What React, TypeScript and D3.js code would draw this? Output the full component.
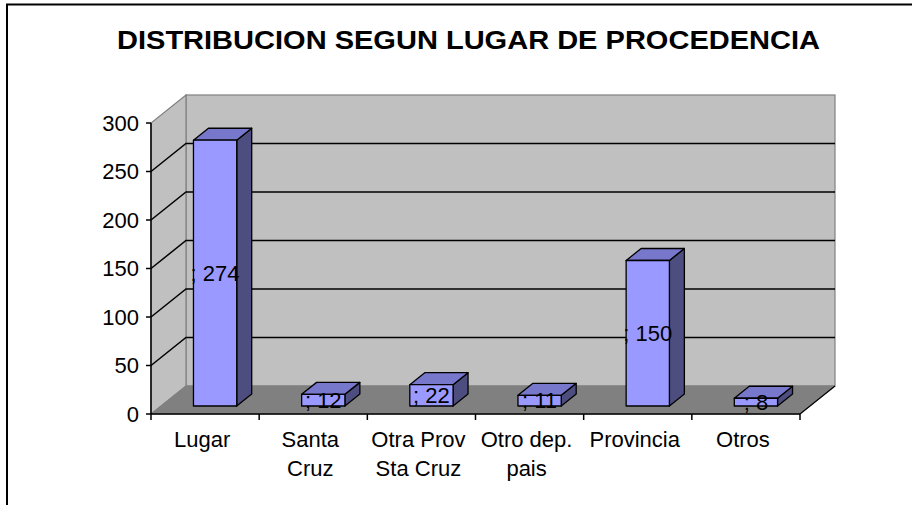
import React from "react";
import * as d3 from "d3";

const categories: string[][] = [
  ["Lugar"],
  ["Santa", "Cruz"],
  ["Otra Prov", "Sta Cruz"],
  ["Otro dep.", "pais"],
  ["Provincia"],
  ["Otros"],
];
const values: number[] = [274, 12, 22, 11, 150, 8];
const yTicks: number[] = [0, 50, 100, 150, 200, 250, 300];
const title = "DISTRIBUCION SEGUN LUGAR DE PROCEDENCIA";

const W = 912;
const H = 505;
const FONT = "'Liberation Sans', Arial, sans-serif";

export default function App() {
  const DX = 35;
  const DY = -28;
  const x = d3
    .scaleBand<number>()
    .domain(categories.map((_, i) => i))
    .range([151, 800])
    .paddingInner(0)
    .paddingOuter(0);
  const y = d3.scaleLinear().domain([0, 300]).range([414, 123]);
  const x0 = x.range()[0];
  const x1 = x.range()[1];
  const y0 = y(0);
  const yTop = y(300);

  const f0 = 0.286;
  const f1 = 0.714;
  const bw = x.bandwidth() / 2.5;
  const FS = 22;

  const pts = (arr: number[][]) => arr.map((p) => p.join(",")).join(" ");

  return (
    <svg
      width={W}
      height={H}
      style={{ position: "absolute", left: 0, top: 0, background: "#fff" }}
      fontFamily={FONT}
    >
      <rect x={0} y={0} width={W} height={H} fill="#fff" />
      {/* frame */}
      <rect x={7} y={4.5} width={W + 20} height={H + 20} fill="none" stroke="#000" strokeWidth={2} />
      {/* title */}
      <text
        x={468.5}
        y={49}
        textAnchor="middle"
        fontSize={26}
        fontWeight="bold"
        textLength={703}
        lengthAdjust="spacingAndGlyphs"
        fill="#000"
      >
        {title}
      </text>

      {/* back wall */}
      <rect
        x={x0 + DX}
        y={yTop + DY}
        width={x1 - x0}
        height={y0 - yTop}
        fill="#C0C0C0"
        stroke="#808080"
        strokeWidth={1.2}
      />
      {/* side wall */}
      <polygon
        points={pts([
          [x0, y0],
          [x0, yTop],
          [x0 + DX, yTop + DY],
          [x0 + DX, y0 + DY],
        ])}
        fill="#C0C0C0"
        stroke="#808080"
        strokeWidth={1.2}
      />
      {/* floor */}
      <polygon
        points={pts([
          [x0, y0],
          [x1, y0],
          [x1 + DX, y0 + DY],
          [x0 + DX, y0 + DY],
        ])}
        fill="#808080"
        stroke="#808080"
        strokeWidth={1}
      />
      <line x1={x1} y1={y0} x2={x1 + DX} y2={y0 + DY} stroke="#000" strokeWidth={1.2} />

      {/* gridlines */}
      {yTicks
        .filter((t) => t > 0 && t < 300)
        .map((t) => (
          <polyline
            key={"g" + t}
            points={pts([
              [x0, y(t)],
              [x0 + DX, y(t) + DY],
              [x1 + DX, y(t) + DY],
            ])}
            fill="none"
            stroke="#000"
            strokeWidth={1.5}
          />
        ))}

      {/* bars */}
      {values.map((v, i) => {
        const bx = (x(i) as number) + (x.bandwidth() - bw) / 2;
        const fx = bx + f0 * DX;
        const bxx = bx + f1 * DX;
        const ft = y(v) + f0 * DY;
        const fb = y0 + f0 * DY;
        const bt = y(v) + f1 * DY;
        const bb = y0 + f1 * DY;
        return (
          <g key={"b" + i} stroke="#000" strokeWidth={1.3} strokeLinejoin="round">
            <polygon
              points={pts([
                [fx + bw, ft],
                [bxx + bw, bt],
                [bxx + bw, bb],
                [fx + bw, fb],
              ])}
              fill="#4D4D80"
            />
            <polygon
              points={pts([
                [fx, ft],
                [fx + bw, ft],
                [bxx + bw, bt],
                [bxx, bt],
              ])}
              fill="#7777CC"
            />
            <rect x={fx} y={ft} width={bw} height={fb - ft} fill="#9999FF" />
          </g>
        );
      })}

      {/* data labels */}
      {values.map((v, i) => {
        const bx = (x(i) as number) + (x.bandwidth() - bw) / 2;
        const fx = bx + f0 * DX;
        const ft = y(v) + f0 * DY;
        const fb = y0 + f0 * DY;
        return (
          <text
            key={"l" + i}
            x={fx + bw / 2}
            y={(ft + fb) / 2}
            textAnchor="middle"
            dominantBaseline="central"
            fontSize={FS}
            fill="#000"
          >
            {"; " + v}
          </text>
        );
      })}

      {/* y axis */}
      <line x1={x0} y1={yTop} x2={x0} y2={y0} stroke="#000" strokeWidth={1.5} />
      {yTicks.map((t) => (
        <g key={"t" + t}>
          <line x1={x0 - 5} y1={y(t)} x2={x0} y2={y(t)} stroke="#000" strokeWidth={1.5} />
          <text
            x={x0 - 12}
            y={y(t)}
            textAnchor="end"
            dominantBaseline="central"
            fontSize={FS}
            fill="#000"
          >
            {t}
          </text>
        </g>
      ))}

      {/* x axis */}
      <line x1={x0} y1={y0} x2={x1} y2={y0} stroke="#000" strokeWidth={1.5} />
      {categories.map((_, i) => (
        <line
          key={"xt" + i}
          x1={x(i) as number}
          y1={y0}
          x2={x(i) as number}
          y2={y0 + 6}
          stroke="#000"
          strokeWidth={1.5}
        />
      ))}
      <line x1={x1} y1={y0} x2={x1} y2={y0 + 6} stroke="#000" strokeWidth={1.5} />
      {categories.map((lines, i) => (
        <text
          key={"c" + i}
          x={(x(i) as number) + x.bandwidth() / 2 - 3}
          y={446.5}
          textAnchor="middle"
          fontSize={FS}
          fill="#000"
        >
          {lines.map((ln, j) => (
            <tspan key={j} x={(x(i) as number) + x.bandwidth() / 2 - 3} y={446.5 + j * 29}>
              {ln}
            </tspan>
          ))}
        </text>
      ))}
    </svg>
  );
}
